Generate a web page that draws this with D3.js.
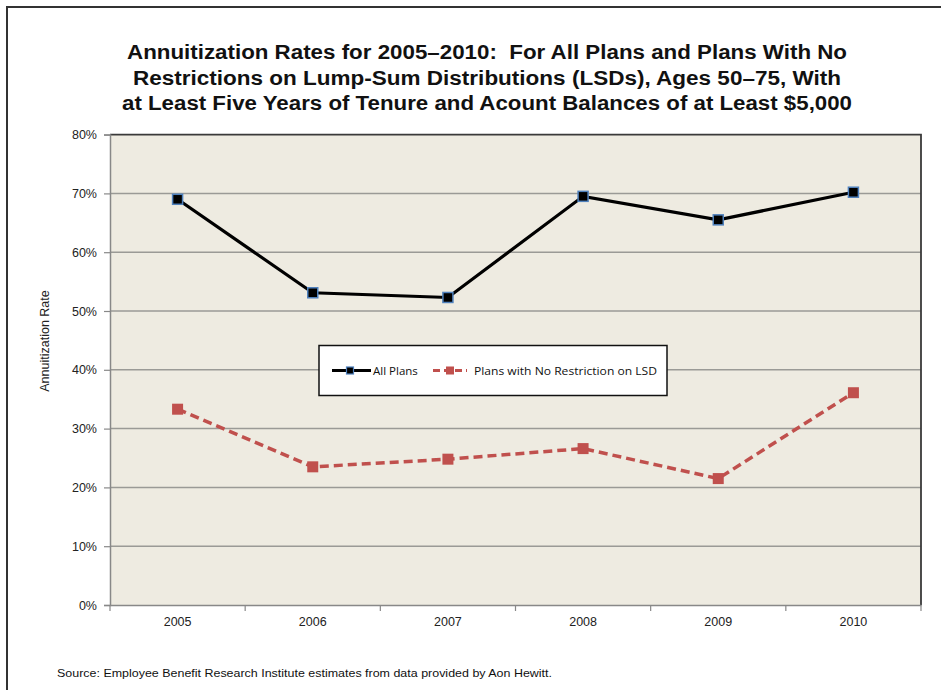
<!DOCTYPE html>
<html><head><meta charset="utf-8">
<script src="https://cdn.jsdelivr.net/npm/d3@7"></script>
<style>body{margin:0;background:#fff}svg{display:block}</style>
</head><body>
<svg id="c" width="941" height="690"></svg>
<script>
const years = ["2005","2006","2007","2008","2009","2010"];
const allPlans = [69.0, 53.1, 52.3, 69.5, 65.5, 70.2];
const noRestriction = [33.3, 23.5, 24.8, 26.6, 21.5, 36.1];
const yTicks = [0,10,20,30,40,50,60,70,80];
const titleLines = [
  "Annuitization Rates for 2005\u20132010:  For All Plans and Plans With No",
  "Restrictions on Lump-Sum Distributions (LSDs), Ages 50\u201375, With",
  "at Least Five Years of Tenure and Acount Balances of at Least $5,000"
];
const seriesNames = ["All Plans","Plans with No Restriction on LSD"];
const sourceText = "Source: Employee Benefit Research Institute estimates from data provided by Aon Hewitt.";

const svg = d3.select("#c");
const L = 110, R = 921, T = 134.6, B = 605;
const x = d3.scaleBand().domain(years).range([L, R]);
const y = d3.scaleLinear().domain([0, 80]).range([B, T]);
const font = "'Liberation Sans', Arial, sans-serif";

// outer frame
svg.append("rect").attr("x",7).attr("y",7).attr("width",960).attr("height",720)
  .attr("fill","none").attr("stroke","#333").attr("stroke-width",2);

// title
const tW = [720, 708, 730];
svg.append("g").selectAll("text").data(titleLines).join("text")
  .attr("x",487).attr("y",(d,i)=>59 + i*25.5)
  .attr("text-anchor","middle").attr("font-family",font).attr("font-weight","bold")
  .attr("font-size",20).attr("fill","#111").style("white-space","pre")
  .attr("textLength",(d,i)=>tW[i]).attr("lengthAdjust","spacingAndGlyphs")
  .text(d=>d);

// plot bg
svg.append("rect").attr("x",L).attr("y",T).attr("width",R-L).attr("height",B-T).attr("fill","#EEEBE1");

// gridlines
svg.append("g").selectAll("line").data(yTicks.filter(d=>d>0 && d<80)).join("line")
  .attr("x1",L).attr("x2",R).attr("y1",d=>y(d)).attr("y2",d=>y(d))
  .attr("stroke","#9a9a96").attr("stroke-width",1.5);

// plot border top & right
svg.append("path").attr("d",`M${L},${T}H${R}V${B}`).attr("fill","none").attr("stroke","#3a3a3a").attr("stroke-width",1.8);

// y axis
const yAxis = svg.append("g").attr("transform",`translate(${L},0)`)
  .call(d3.axisLeft(y).tickValues(yTicks).tickFormat(d=>d+"%").tickSize(6).tickPadding(7));
yAxis.select(".domain").attr("stroke","#888").attr("stroke-width",1.5);
yAxis.selectAll(".tick line").attr("stroke","#888").attr("stroke-width",1.2);
yAxis.selectAll("text").attr("font-family",font).attr("font-size",12.5).attr("fill","#222");

// x axis
const xAxis = svg.append("g").attr("transform",`translate(0,${B})`)
  .call(d3.axisBottom(x).tickSize(0).tickPadding(12));
xAxis.select(".domain").attr("stroke","#888").attr("stroke-width",1.5);
xAxis.selectAll("text").attr("font-family",font).attr("font-size",12.5).attr("fill","#222");
svg.append("g").selectAll("line").data(years.concat(["end"])).join("line")
  .attr("x1",(d,i)=>L + i*x.step()).attr("x2",(d,i)=>L + i*x.step())
  .attr("y1",B).attr("y2",B+6).attr("stroke","#888").attr("stroke-width",1.2);

// y axis title
svg.append("text").attr("transform","translate(49,341) rotate(-90)")
  .attr("text-anchor","middle").attr("font-family",font).attr("font-size",12.5).attr("fill","#222")
  .text("Annuitization Rate");

const cx = d => x(d) + x.bandwidth()/2;
const line = d3.line().x(d=>cx(d.year)).y(d=>y(d.v));
const s1 = years.map((yr,i)=>({year:yr, v:allPlans[i]}));
const s2 = years.map((yr,i)=>({year:yr, v:noRestriction[i]}));

svg.append("path").datum(s2).attr("d",line).attr("fill","none")
  .attr("stroke","#C0504D").attr("stroke-width",3.5).attr("stroke-dasharray","9,5");
svg.append("g").selectAll("rect").data(s2).join("rect")
  .attr("x",d=>cx(d.year)-5.5).attr("y",d=>y(d.v)-5.5).attr("width",11).attr("height",11)
  .attr("fill","#C0504D");

svg.append("path").datum(s1).attr("d",line).attr("fill","none")
  .attr("stroke","#000").attr("stroke-width",3.2);
svg.append("g").selectAll("rect").data(s1).join("rect")
  .attr("x",d=>cx(d.year)-5).attr("y",d=>y(d.v)-5).attr("width",10).attr("height",10)
  .attr("fill","#000").attr("stroke","#4F81BD").attr("stroke-width",1.5);

// legend
const lg = svg.append("g");
lg.append("rect").attr("x",319).attr("y",345.5).attr("width",348).attr("height",50)
  .attr("fill","#fff").attr("stroke","#111").attr("stroke-width",1.5);
lg.append("line").attr("x1",332).attr("x2",371).attr("y1",370.5).attr("y2",370.5).attr("stroke","#000").attr("stroke-width",3);
lg.append("rect").attr("x",346.5).attr("y",367).attr("width",7).attr("height",7).attr("fill","#000").attr("stroke","#4F81BD").attr("stroke-width",1.2);
lg.append("line").attr("x1",433).attr("x2",467).attr("y1",370.5).attr("y2",370.5).attr("stroke","#C0504D").attr("stroke-width",3).attr("stroke-dasharray","7,4");
lg.append("rect").attr("x",446).attr("y",366.5).attr("width",8).attr("height",8).attr("fill","#C0504D");
lg.append("text").attr("x",373).attr("y",375).attr("font-family","'Open Sans', sans-serif").attr("font-size",11.5).attr("fill","#111").text(seriesNames[0]);
lg.append("text").attr("x",474).attr("y",375).attr("font-family","'Open Sans', sans-serif").attr("font-size",11.5).attr("fill","#111")
  .attr("textLength",183).attr("lengthAdjust","spacingAndGlyphs").text(seriesNames[1]);

// source
svg.append("text").attr("x",57).attr("y",677).attr("font-family",font).attr("font-size",11).attr("fill","#111")
  .attr("textLength",495).attr("lengthAdjust","spacingAndGlyphs").text(sourceText);
</script>
</body></html>
